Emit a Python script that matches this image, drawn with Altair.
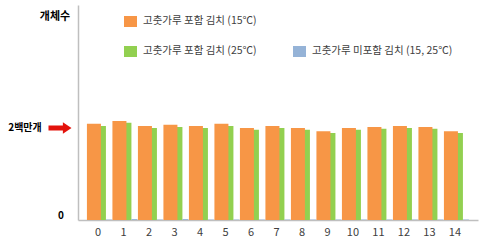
import altair as alt
import pandas as pd

days = list(range(15))
orange_15 = [2.09, 2.15, 2.04, 2.07, 2.04, 2.09, 2.00, 2.04, 2.00, 1.93, 2.00, 2.02, 2.04, 2.02, 1.93]
green_25 = [2.04, 2.11, 2.00, 2.02, 2.00, 2.04, 1.96, 2.00, 1.96, 1.89, 1.96, 1.98, 2.00, 1.98, 1.89]
blue_none = [0.01, 0.02, 0.01, 0.02, 0.01, 0.01, 0.01, 0.01, 0.01, 0.01, 0.01, 0.01, 0.01, 0.01, 0.01]
series_names = ["고춧가루 포함 김치 (15℃)", "고춧가루 포함 김치 (25℃)", "고춧가루 미포함 김치 (15, 25℃)"]
series_colors = ["#F79646", "#92D050", "#95B3D7"]
y_title = "개체수"
y_tick_values = [0, 2]
y_tick_labels = ["0", "2백만개"]

FONT = "Noto Sans CJK KR"

df = pd.DataFrame({"day": days, "orange": orange_15, "green": green_25, "blue": blue_none})

x_enc = alt.X("day:O", scale=alt.Scale(paddingInner=0, paddingOuter=0.343, align=0.41),
              axis=alt.Axis(labelAngle=0, ticks=False, domainColor="#bfbfbf", domainWidth=1.5,
                            labelFontSize=11, labelColor="#404040", labelPadding=6,
                            labelFont=FONT, title=None, grid=False))
y_scale = alt.Scale(domain=[0, 4.67], nice=False, zero=True)

def bars(field, color, width, offset):
    return alt.Chart(df).mark_bar(width=width, xOffset=offset, color=color).encode(
        x=x_enc,
        y=alt.Y(f"{field}:Q", scale=y_scale,
                axis=alt.Axis(labels=False, ticks=False, grid=False, title=None,
                              domainColor="#bfbfbf", domainWidth=1.5)),
    )

green_bars = bars("green", series_colors[1], 14, 1)
blue_bars = bars("blue", series_colors[2], 6, 11)
orange_bars = bars("orange", series_colors[0], 14, -4)

one = pd.DataFrame({"k": [0]})

def legend_item(i, sx, sy):
    sq = alt.Chart(one).mark_rect(color=series_colors[i]).encode(
        x=alt.value(sx), x2=alt.value(sx + 13), y=alt.value(sy - 5), y2=alt.value(sy + 6))
    tx = alt.Chart(one).mark_text(align="left", baseline="middle", font=FONT, fontSize=10.5,
                                  color="#404040").encode(
        x=alt.value(sx + 19), y=alt.value(sy), text=alt.value(series_names[i]))
    return sq + tx

leg = legend_item(0, 46, 16) + legend_item(1, 46, 46) + legend_item(2, 215, 46)

title_txt = alt.Chart(one).mark_text(font=FONT, fontSize=11, fontWeight="bold", color="#000000",
                                     baseline="middle").encode(
    x=alt.value(-23), y=alt.value(12), text=alt.value(y_title))

ylab_df = pd.DataFrame({"v": y_tick_values, "lab": y_tick_labels})
zero_lab = alt.Chart(ylab_df).transform_filter(alt.datum.v == 0).mark_text(
    font=FONT, fontSize=10, fontWeight="bold", color="#000000", baseline="middle", dy=-4).encode(
    x=alt.value(-17), y=alt.Y("v:Q", scale=y_scale), text="lab:N")
two_lab = alt.Chart(ylab_df).transform_filter(alt.datum.v == 2).mark_text(
    font=FONT, fontSize=10, fontWeight="bold", color="#000000", baseline="middle").encode(
    x=alt.value(-53), y=alt.Y("v:Q", scale=y_scale), text="lab:N")

arrow_path = "M-1,-0.22 L0.25,-0.22 L0.25,-0.5 L1,0 L0.25,0.5 L0.25,0.22 L-1,0.22 Z"
arrow = alt.Chart(ylab_df).transform_filter(alt.datum.v == 2).mark_point(
    shape=arrow_path, filled=True, color="#E3120B", opacity=1, size=529, strokeWidth=0).encode(
    x=alt.value(-18), y=alt.Y("v:Q", scale=y_scale))

chart = alt.layer(green_bars, blue_bars, orange_bars, leg, title_txt, zero_lab, two_lab, arrow).properties(
    width=400, height=215,
    autosize=alt.AutoSizeParams(type="none"),
    padding={"left": 78, "top": 5, "right": 2, "bottom": 22},
    background="white",
).configure_view(stroke=None)

chart.save("out.html", embed_options={"renderer": "svg", "actions": False})
